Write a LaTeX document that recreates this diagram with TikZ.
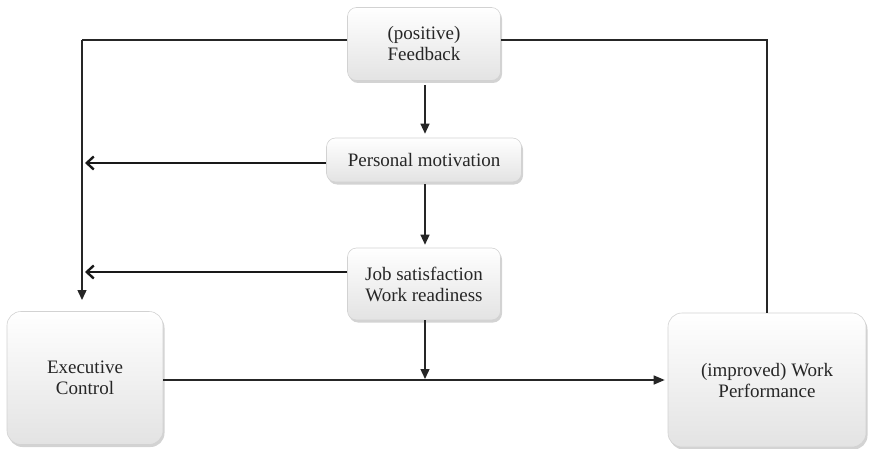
\documentclass[tikz,border=0pt]{standalone}
\usepackage{fontspec}
\setmainfont{Liberation Serif}
\usetikzlibrary{shadows,arrows.meta}
\begin{document}
\begin{tikzpicture}[x=1pt,y=-1pt,
  box/.style={rectangle, rounded corners=9pt, draw=gray!35, line width=0.6pt,
    top color=white, bottom color=gray!22, align=center, inner sep=2pt,
    font=\fontsize{19}{21}\selectfont, text=black!85,
    drop shadow={shadow xshift=1.5pt, shadow yshift=-2.5pt, opacity=0.35, fill=gray}},
  ln/.style={line width=1.4pt, draw=black!85},
  down/.style={ln, -{Triangle[length=10pt,width=9pt]}},
  barb/.style={line width=2.6pt, draw=black!90, -{Straight Barb[length=7pt,width=13pt,line width=2.4pt]}},
  rarrow/.style={ln, -{Triangle[length=11pt,width=9pt]}}]
\useasboundingbox (0,0) rectangle (869,449);
\node[box, minimum width=153pt, minimum height=73pt] (fb) at (424,44) {(positive)\\Feedback};
\node[box, minimum width=195pt, minimum height=44pt] (pm) at (424,160) {Personal motivation};
\node[box, minimum width=153pt, minimum height=72pt] (js) at (424,284) {Job satisfaction\\Work readiness};
\node[box, minimum width=156pt, minimum height=133pt, rounded corners=14pt] (ec) at (85,378) {Executive\\Control};
\node[box, minimum width=198pt, minimum height=134pt, rounded corners=14pt] (wp) at (767,380) {(improved) Work\\Performance};
\coordinate (lt) at (82,40);
\coordinate (ltb) at (82,300);
\coordinate (rt) at (767,40);
\coordinate (pmL) at (85,163);
\coordinate (jsL) at (85,272);
\coordinate (jsD) at (425,379);
\draw[ln] (fb.west |- lt) -- (lt);
\draw[down] (lt) -- (ltb);
\draw[ln] (fb.east |- rt) -- (rt) -- (wp.north);
\draw[down, shorten >=4pt, shorten <=4pt] (fb.south -| 425,0) -- (pm.north -| 425,0);
\draw[down, shorten >=3pt, shorten <=2pt] (pm.south -| 425,0) -- (js.north -| 425,0);
\draw[barb] (pm.west |- pmL) -- (pmL);
\draw[barb] (js.west |- jsL) -- (jsL);
\draw[down] (js.south -| jsD) -- (jsD);
\draw[rarrow, shorten >=3pt] (ec.east |- 0,380) -- (wp.west |- 0,380);
\end{tikzpicture}
\end{document}
